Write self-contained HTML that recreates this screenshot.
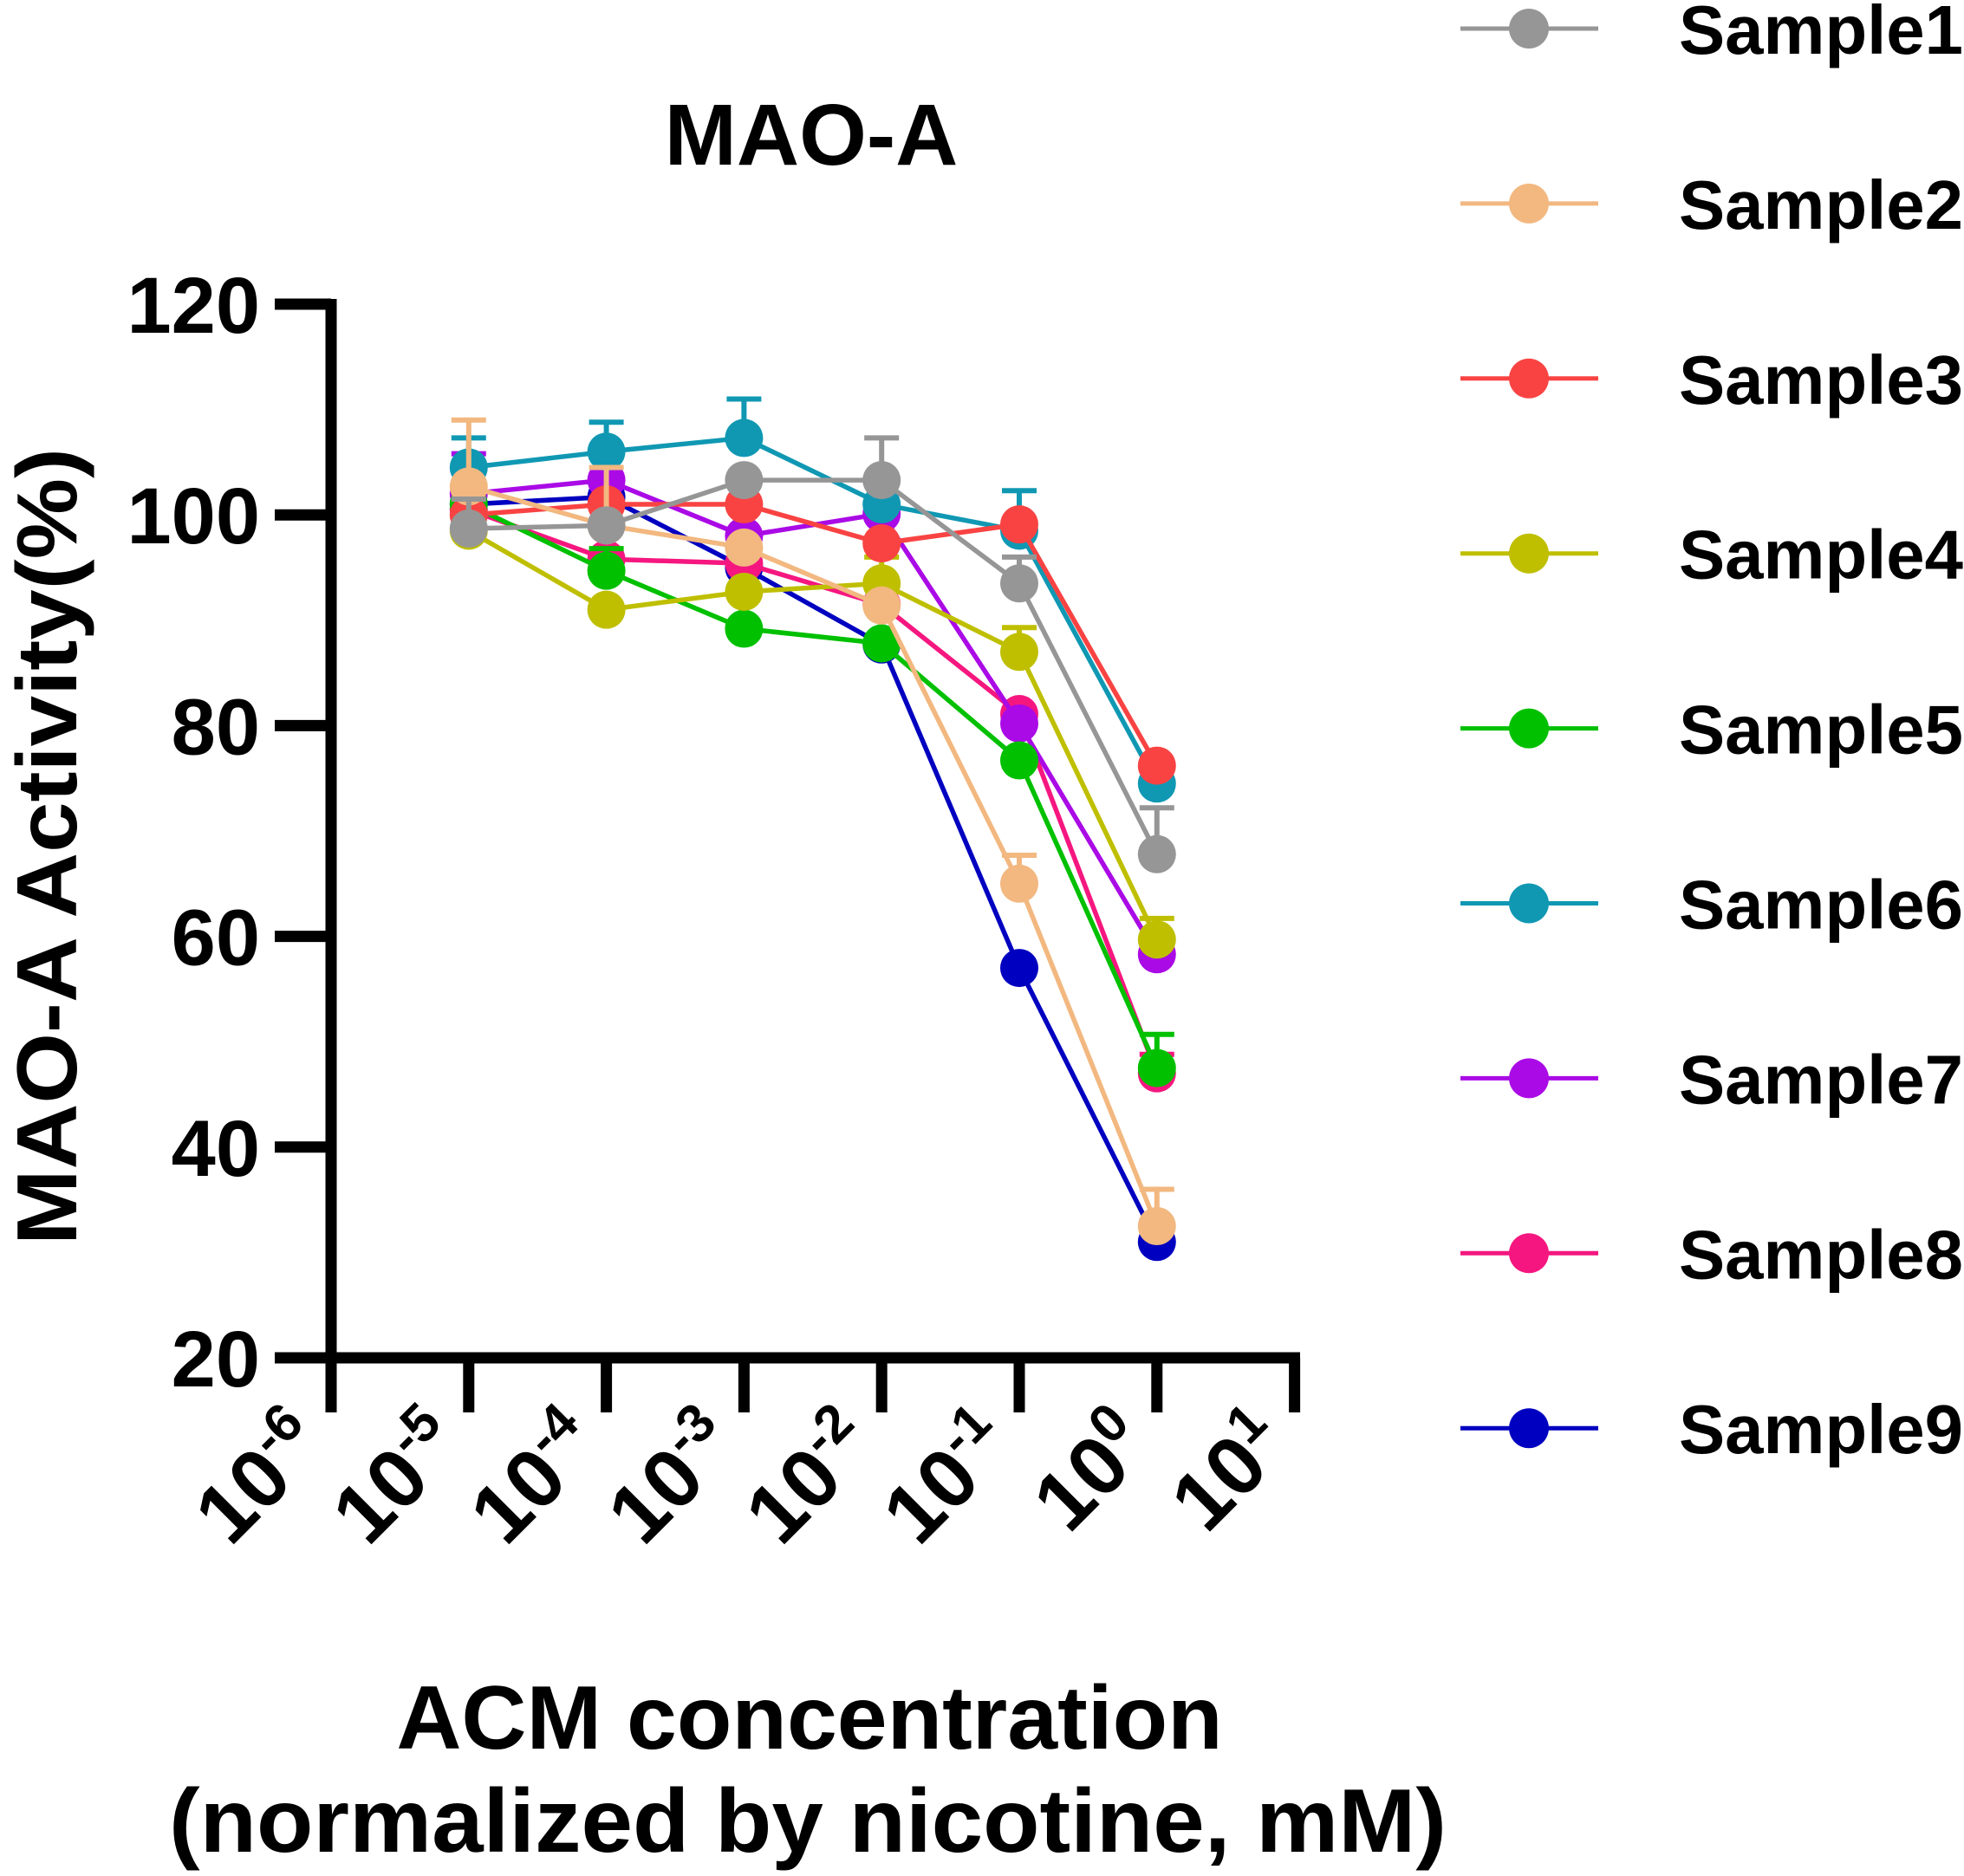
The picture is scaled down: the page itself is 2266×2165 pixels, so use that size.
<!DOCTYPE html>
<html><head><meta charset="utf-8"><style>
html,body{margin:0;padding:0;background:#fff;}
svg{display:block;font-family:"Liberation Sans",Arial,sans-serif;font-weight:bold;}
</style></head><body>
<svg id="s" width="2266" height="2165" viewBox="0 0 2266 2165" xmlns="http://www.w3.org/2000/svg">
<text x="936" y="190" font-size="100" text-anchor="middle">MAO-A</text>
<g id="axes" stroke="#000" stroke-width="13" fill="none"></g>
<g id="ylab" font-size="92" text-anchor="end"></g>
<g id="xlab" font-size="96" text-anchor="end"></g>
<text transform="translate(88,977) rotate(-90)" font-size="98" text-anchor="middle" textLength="920" lengthAdjust="spacingAndGlyphs">MAO-A Activity(%)</text>
<text x="934" y="2018" font-size="104" text-anchor="middle">ACM concentration</text>
<text x="932" y="2137" font-size="104" text-anchor="middle" textLength="1474" lengthAdjust="spacingAndGlyphs">(normalized by nicotine, mM)</text>
<g id="data"></g>
<g id="leg" font-size="80"></g>
</svg>
<script>
var NS="http://www.w3.org/2000/svg";
function el(p,t,a,txt){var e=document.createElementNS(NS,t);for(var k in a)e.setAttribute(k,a[k]);if(txt!=null)e.textContent=txt;p.appendChild(e);return e;}
function X(d){return 382+(d+6)*158.8;}
function Y(v){return 351+(120-v)*12.16;}
var ax=document.getElementById('axes');
el(ax,'path',{d:'M382 345 L382 1567 M376 1567 L1500 1567',"stroke-linecap":"butt"});
var yl=document.getElementById('ylab');
for(var v=20;v<=120;v+=20){el(ax,'line',{x1:317,x2:382,y1:Y(v),y2:Y(v)});
 el(yl,'text',{x:300,y:Y(v)+33},String(v));}
var xl=document.getElementById('xlab');
for(var d=-6;d<=1;d++){var x=X(d);el(ax,'line',{x1:x,x2:x,y1:1567,y2:1630});
 var t=el(xl,'text',{transform:'translate('+(x-2)+',1672) rotate(-45)'});
 t.appendChild(document.createTextNode('10'));
 el(t,'tspan',{dy:-38,"font-size":62},String(d));}
var S=[
 ['#969696',[98.7,99,103.3,103.3,93.5,67.8],[101.5,0,0,107.3,96,72.2]],
 ['#f2b880',[102.7,99,96.9,91.4,65,32.5],[109,104.5,0,0,67.7,36]],
 ['#f94343',[100,101,101,97.3,99.1,76.2],[0,0,0,0,0,0]],
 ['#bfbf00',[98.5,91,92.7,93.5,87,59.7],[0,0,0,96,89.3,61.7]],
 ['#00c000',[101,94.7,89.2,87.8,76.7,47.5],[0,96.8,0,0,0,50.7]],
 ['#1098b3',[104.5,106,107.3,101,98.5,74.5],[107.3,108.8,111,0,102.3,0]],
 ['#aa0ae6',[102,103.3,98,100.1,80.2,58.3],[105.8,0,0,0,0,0]],
 ['#f5177f',[100.5,95.8,95.4,91.5,81.1,47],[0,0,0,0,0,48.8]],
 ['#0000c0',[101,101.7,95,87.7,57,31],[0,0,0,0,0,33]]
];
var dg=document.getElementById('data');
S.slice().reverse().forEach(function(s){var g=el(dg,'g',{});
 s[2].forEach(function(e,i){if(e){var x=X(i-5);el(g,'path',{d:'M'+x+' '+Y(s[1][i])+' L'+x+' '+Y(e)+' M'+(x-20)+' '+Y(e)+' L'+(x+20)+' '+Y(e),stroke:s[0],"stroke-width":6,fill:'none'});}});
 var pts=s[1].map(function(v,i){return X(i-5)+','+Y(v);}).join(' ');
 el(g,'polyline',{points:pts,stroke:s[0],"stroke-width":5.5,fill:'none'});
 s[1].forEach(function(v,i){el(g,'circle',{cx:X(i-5),cy:Y(v),r:22,fill:s[0]});});
});
var lg=document.getElementById('leg');
S.forEach(function(s,i){var y=33+i*201.9;
 el(lg,'line',{x1:1685,x2:1844,y1:y,y2:y,stroke:s[0],"stroke-width":5});
 el(lg,'circle',{cx:1764,cy:y,r:23,fill:s[0]});
 el(lg,'text',{x:1937,y:y+29,textLength:328,lengthAdjust:'spacingAndGlyphs'},'Sample'+(i+1));
});
</script>
</body></html>
